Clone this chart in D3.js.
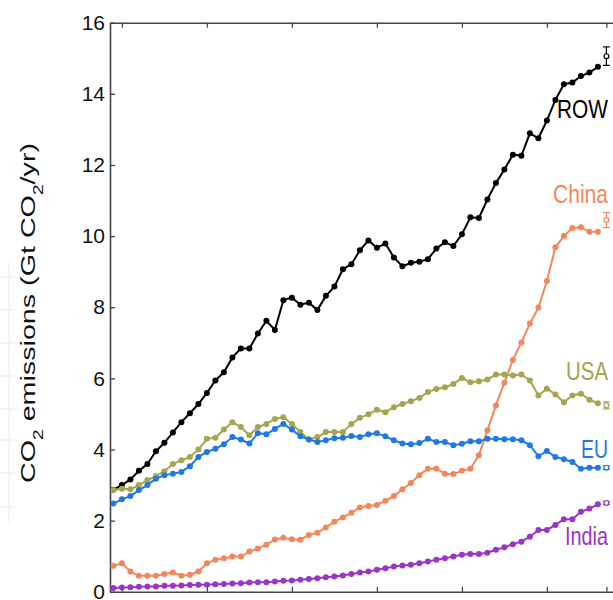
<!DOCTYPE html>
<html>
<head>
<meta charset="utf-8">
<script src="https://cdn.jsdelivr.net/npm/d3@7"></script>
<style>
  body { margin: 0; background: #fff; }
  svg { display: block; }
</style>
</head>
<body>
<svg id="chart" width="613" height="600"></svg>
<script>
// years of the record (the projection sits one year after)
const years = [1959, 1960, 1961, 1962, 1963, 1964, 1965, 1966, 1967, 1968,
  1969, 1970, 1971, 1972, 1973, 1974, 1975, 1976, 1977, 1978,
  1979, 1980, 1981, 1982, 1983, 1984, 1985, 1986, 1987, 1988,
  1989, 1990, 1991, 1992, 1993, 1994, 1995, 1996, 1997, 1998,
  1999, 2000, 2001, 2002, 2003, 2004, 2005, 2006, 2007, 2008,
  2009, 2010, 2011, 2012, 2013, 2014, 2015, 2016];

const rowValues = [2.87, 3.00, 3.16, 3.40, 3.59, 3.95, 4.19, 4.48, 4.77, 5.02,
  5.28, 5.59, 5.94, 6.17, 6.59, 6.84, 6.84, 7.26, 7.62, 7.36,
  8.20, 8.27, 8.07, 8.13, 7.92, 8.32, 8.58, 9.07, 9.21, 9.60,
  9.88, 9.67, 9.79, 9.40, 9.15, 9.25, 9.28, 9.35, 9.65, 9.83,
  9.72, 10.05, 10.53, 10.51, 11.03, 11.49, 11.87, 12.29, 12.26, 12.89,
  12.75, 13.25, 13.83, 14.27, 14.32, 14.50, 14.60, 14.76];

const chinaValues = [0.73, 0.80, 0.57, 0.45, 0.45, 0.45, 0.50, 0.54, 0.45, 0.48,
  0.57, 0.80, 0.90, 0.94, 0.99, 0.99, 1.13, 1.22, 1.32, 1.47,
  1.52, 1.48, 1.46, 1.60, 1.66, 1.81, 1.97, 2.09, 2.22, 2.37,
  2.41, 2.44, 2.56, 2.69, 2.88, 3.06, 3.28, 3.46, 3.46, 3.32,
  3.31, 3.40, 3.46, 3.84, 4.54, 5.24, 5.88, 6.52, 7.01, 7.54,
  7.99, 8.74, 9.69, 10.00, 10.23, 10.25, 10.12, 10.12];

const usaValues = [2.86, 2.90, 2.88, 3.00, 3.14, 3.25, 3.39, 3.59, 3.70, 3.79,
  4.00, 4.30, 4.33, 4.56, 4.77, 4.63, 4.40, 4.63, 4.72, 4.86,
  4.91, 4.72, 4.49, 4.28, 4.35, 4.49, 4.49, 4.49, 4.72, 4.89,
  4.99, 5.12, 5.05, 5.19, 5.28, 5.36, 5.45, 5.62, 5.70, 5.75,
  5.84, 6.01, 5.89, 5.92, 5.97, 6.11, 6.11, 6.08, 6.11, 5.94,
  5.52, 5.71, 5.55, 5.33, 5.52, 5.57, 5.40, 5.30];

const euValues = [2.48, 2.60, 2.69, 2.86, 3.00, 3.18, 3.28, 3.32, 3.37, 3.53,
  3.79, 3.93, 4.02, 4.15, 4.35, 4.28, 4.17, 4.46, 4.43, 4.58,
  4.72, 4.56, 4.37, 4.28, 4.21, 4.26, 4.32, 4.33, 4.38, 4.35,
  4.43, 4.46, 4.37, 4.26, 4.17, 4.15, 4.18, 4.30, 4.21, 4.21,
  4.12, 4.16, 4.23, 4.23, 4.30, 4.30, 4.29, 4.29, 4.26, 4.12,
  3.81, 3.96, 3.79, 3.73, 3.65, 3.46, 3.49, 3.49];

const indiaValues = [0.11, 0.12, 0.13, 0.14, 0.15, 0.15, 0.17, 0.17, 0.18, 0.19,
  0.20, 0.20, 0.21, 0.22, 0.23, 0.24, 0.26, 0.27, 0.27, 0.29,
  0.31, 0.32, 0.34, 0.36, 0.38, 0.41, 0.43, 0.46, 0.50, 0.54,
  0.57, 0.62, 0.66, 0.71, 0.74, 0.76, 0.80, 0.85, 0.90, 0.94,
  0.99, 1.04, 1.06, 1.06, 1.10, 1.18, 1.25, 1.34, 1.41, 1.55,
  1.74, 1.74, 1.88, 2.04, 2.04, 2.25, 2.34, 2.46];

// projection for the next year, with its uncertainty
const projYear = 2017;
const seriesNames = ["ROW", "China", "USA", "EU", "India"];
const projValues = [15.06, 10.45, 5.24, 3.49, 2.50];
const projErrors = [0.26, 0.21, 0.10, 0.05, 0.04];

const xTicks = [1960, 1970, 1980, 1990, 2000, 2010, 2017];
const yTicks = [0, 2, 4, 6, 8, 10, 12, 14, 16];

const seriesValues = [rowValues, chinaValues, usaValues, euValues, indiaValues];
const colors = ["#000000", "#f2875b", "#a4a54e", "#1f78e5", "#9a35c8"];
// label baselines and widths (px) for the names on the right
const labelY = [118, 203, 380, 458, 545];
const labelW = [51, 55, 42, 27, 43];
const labelRight = 608;

const svg = d3.select("#chart");
const margin = { left: 110, top: 22.7, bottom: 591.8 };

const x = d3.scaleLinear().domain([1958.6, 2018.5]).range([margin.left, 619.15]);
const y = d3.scaleLinear().domain([0, 16]).range([margin.bottom, margin.top]);

// faint stray grid at the far left of the picture
const ghost = svg.append("g").attr("stroke", "#e4f1fa").attr("stroke-width", 1.2);
[277, 310, 343, 376, 409, 440, 473, 507].forEach(v => {
    ghost.append("line").attr("x1", 0).attr("x2", 16).attr("y1", v).attr("y2", v);
});
ghost.append("line").attr("x1", 9).attr("x2", 9).attr("y1", 262).attr("y2", 525);

// axes - ticks point inward
const axisColor = "#444";
const gLeft = svg.append("g")
    .attr("transform", `translate(${margin.left},0)`)
    .call(d3.axisLeft(y).tickValues(yTicks).tickSizeInner(-5).tickSizeOuter(0).tickPadding(5));
const gBottom = svg.append("g")
    .attr("transform", `translate(0,${margin.bottom})`)
    .call(d3.axisBottom(x).tickValues(xTicks).tickSizeInner(-5).tickSizeOuter(0).tickFormat(""));
const gTop = svg.append("g")
    .attr("transform", `translate(0,${margin.top})`)
    .call(d3.axisTop(x).tickValues(xTicks).tickSizeInner(-5).tickSizeOuter(0).tickFormat(""));

[gLeft, gBottom, gTop].forEach(g => {
    g.select(".domain").attr("stroke", axisColor).attr("stroke-width", 1.6);
    g.selectAll(".tick line").attr("stroke", axisColor).attr("stroke-width", 1.3);
});
gBottom.select(".domain").attr("d", `M${margin.left},0.5H613`);
gTop.select(".domain").attr("d", `M${margin.left},0.5H613`);
gLeft.selectAll(".tick text")
    .attr("fill", "#111")
    .style("font-family", "'Liberation Sans', Arial, sans-serif")
    .style("font-size", "21px");

// y axis title
const yTitle = svg.append("text")
    .attr("transform", "translate(35,313) rotate(-90)")
    .attr("text-anchor", "middle")
    .attr("fill", "#111")
    .style("font-family", "'Liberation Sans', Arial, sans-serif")
    .style("font-size", "21px")
    .attr("textLength", 340)
    .attr("lengthAdjust", "spacingAndGlyphs");
yTitle.append("tspan").text("CO");
yTitle.append("tspan").attr("baseline-shift", "sub").style("font-size", "14px").text("2");
yTitle.append("tspan").text(" emissions (Gt CO");
yTitle.append("tspan").attr("baseline-shift", "sub").style("font-size", "14px").text("2");
yTitle.append("tspan").text("/yr)");

const line = d3.line()
    .x((d, i) => x(years[i]))
    .y(d => y(d));

seriesValues.forEach((vals, s) => {
    const g = svg.append("g").attr("class", "series");
    g.append("path")
        .datum(vals)
        .attr("fill", "none")
        .attr("stroke", colors[s])
        .attr("stroke-width", 2)
        .attr("d", line);
    g.selectAll("circle")
        .data(vals)
        .enter().append("circle")
        .attr("cx", (d, i) => x(years[i]))
        .attr("cy", d => y(d))
        .attr("r", 3)
        .attr("fill", colors[s]);

    // projection with error bar
    const px = x(projYear);
    const lo = y(projValues[s] - projErrors[s]);
    const hi = y(projValues[s] + projErrors[s]);
    const pg = g.append("g").attr("stroke", colors[s]).attr("stroke-width", 1.2).attr("fill", "none");
    pg.append("line").attr("x1", px).attr("x2", px).attr("y1", lo).attr("y2", hi);
    pg.append("line").attr("x1", px - 3.5).attr("x2", px + 3.5).attr("y1", lo).attr("y2", lo);
    pg.append("line").attr("x1", px - 3.5).attr("x2", px + 3.5).attr("y1", hi).attr("y2", hi);
    pg.append("circle").attr("cx", px).attr("cy", y(projValues[s])).attr("r", 2.4).attr("fill", "#fff");

    // name, squeezed horizontally to the narrow lettering of the original
    const label = g.append("text")
        .attr("x", 0)
        .attr("y", 0)
        .attr("text-anchor", "end")
        .attr("fill", colors[s])
        .style("font-family", "'Liberation Sans', Arial, sans-serif")
        .style("font-size", "25px")
        .text(seriesNames[s]);
    const sx = labelW[s] / label.node().getComputedTextLength();
    label.attr("transform", `translate(${labelRight},${labelY[s]}) scale(${sx},1)`);
});
</script>
</body>
</html>
